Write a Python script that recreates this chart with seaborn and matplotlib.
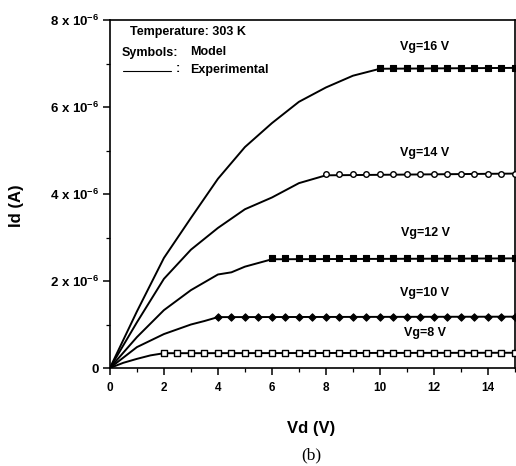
import numpy as np
import pandas as pd
import matplotlib
matplotlib.use("Agg")
import matplotlib.pyplot as plt
from matplotlib.lines import Line2D
import seaborn as sns

# Experimental output characteristics (Id in units of 1e-6 A)
vd_8 = [0, 0.5, 1, 1.5, 2, 15]
id_8 = [0, 0.12, 0.21, 0.29, 0.34, 0.35]
vd_10 = [0, 1, 2, 3, 3.5, 4, 15]
id_10 = [0, 0.48, 0.78, 1.0, 1.08, 1.17, 1.18]
vd_12 = [0, 1, 2, 3, 4, 4.5, 5, 6, 15]
id_12 = [0, 0.71, 1.33, 1.79, 2.15, 2.2, 2.33, 2.5, 2.52]
vd_14 = [0, 1, 2, 3, 4, 5, 6, 7, 8, 15]
id_14 = [0, 1.05, 2.05, 2.72, 3.22, 3.65, 3.92, 4.25, 4.43, 4.47]
vd_16 = [0, 1, 2, 3, 4, 5, 6, 7, 8, 9, 10, 15]
id_16 = [0, 1.3, 2.53, 3.45, 4.35, 5.08, 5.63, 6.12, 6.45, 6.72, 6.88, 6.9]

# Model saturation currents (1e-6 A) and onset of saturation (V)
vg_values = [8, 10, 12, 14, 16]
model_start = [2, 4, 6, 8, 10]
model_id = [0.35, 1.18, 2.52, 4.46, 6.9]
model_step = 0.5

label_y = [0.80, 1.72, 3.10, 4.94, 7.38]
label_x = 11.67

x_ticks = [0, 2, 4, 6, 8, 10, 12, 14]
y_ticks = [0, 2e-6, 4e-6, 6e-6, 8e-6]
y_ticklabels = ["0", "2 x 10$^{-6}$", "4 x 10$^{-6}$", "6 x 10$^{-6}$", "8 x 10$^{-6}$"]

sns.set_style("ticks")
plt.rcParams["font.family"] = ["Liberation Sans", "DejaVu Sans"]
plt.rcParams["font.weight"] = "bold"
plt.rcParams["text.color"] = "black"
plt.rcParams["axes.labelcolor"] = "black"
plt.rcParams["mathtext.fontset"] = "custom"
plt.rcParams["mathtext.rm"] = "Liberation Sans:bold"
plt.rcParams["mathtext.default"] = "rm"

fig = plt.figure(figsize=(5.16, 4.66), dpi=100)
ax = fig.add_axes([0.213, 0.2103, 0.785, 0.7467])

exp_frames = []
for vg, vd, idv in zip(vg_values, [vd_8, vd_10, vd_12, vd_14, vd_16],
                       [id_8, id_10, id_12, id_14, id_16]):
    exp_frames.append(pd.DataFrame({"Vd": vd, "Id": np.array(idv) * 1e-6, "Vg": vg}))
exp_df = pd.concat(exp_frames, ignore_index=True)

sns.lineplot(data=exp_df, x="Vd", y="Id", units="Vg", estimator=None, sort=False,
             color="black", linewidth=1.4, ax=ax)

# Model symbols on the saturated branch
marker_styles = {
    8: dict(marker="s", s=18, facecolor="white", edgecolor="black", linewidth=1.0),
    10: dict(marker="D", s=14, facecolor="black", edgecolor="black", linewidth=0.8),
    12: dict(marker="s", s=22, facecolor="black", edgecolor="black", linewidth=0.8),
    14: dict(marker="o", s=16, facecolor="white", edgecolor="black", linewidth=1.0),
    16: dict(marker="s", s=22, facecolor="black", edgecolor="black", linewidth=0.8),
}
for vg, start, level in zip(vg_values, model_start, model_id):
    vd_model = np.arange(start, 15 + 1e-9, model_step)
    mdf = pd.DataFrame({"Vd": vd_model, "Id": np.full(len(vd_model), level * 1e-6)})
    st = marker_styles[vg]
    sns.scatterplot(data=mdf, x="Vd", y="Id", marker=st["marker"], s=st["s"],
                    facecolor=st["facecolor"], edgecolor=st["edgecolor"],
                    linewidth=st["linewidth"], ax=ax, clip_on=False, zorder=3)

for vg, ly in zip(vg_values, label_y):
    ax.text(label_x, ly * 1e-6, f"Vg={vg} V", ha="center", va="center",
            fontsize=9, fontweight="bold")

# Legend annotation
ax.text(0.05, 0.965, "Temperature: 303 K", transform=ax.transAxes, ha="left",
        va="center", fontsize=9, fontweight="bold")
ax.text(0.029, 0.905, "Symbols:", transform=ax.transAxes, ha="left",
        va="center", fontsize=9, fontweight="bold")
ax.text(0.198, 0.908, "Model", transform=ax.transAxes, ha="left",
        va="center", fontsize=9, fontweight="bold")
ax.add_line(Line2D([0.032, 0.152], [0.853, 0.853], transform=ax.transAxes,
                   color="black", linewidth=0.8))
ax.text(0.162, 0.858, ":", transform=ax.transAxes, ha="left",
        va="center", fontsize=9, fontweight="bold")
ax.text(0.198, 0.856, "Experimental", transform=ax.transAxes, ha="left",
        va="center", fontsize=9, fontweight="bold")

ax.set_xlim(0, 15)
ax.set_ylim(0, 8e-6)
ax.set_xticks(x_ticks)
ax.set_xticklabels([str(t) for t in x_ticks], fontsize=8.5, fontweight="bold")
ax.set_xticks(np.arange(0, 15.01, 1), minor=True)
ax.set_yticks(y_ticks)
ax.set_yticklabels(y_ticklabels, fontsize=9.5, fontweight="bold")
ax.set_yticks(np.arange(0, 8.01e-6, 1e-6), minor=True)
ax.tick_params(axis="both", which="major", direction="out", length=5, width=1.1,
               pad=3, color="black", labelcolor="black")
ax.tick_params(axis="both", which="minor", direction="out", length=3, width=0.9,
               color="black")
ax.tick_params(axis="x", pad=5)
for sp in ax.spines.values():
    sp.set_visible(True)
    sp.set_linewidth(1.2)
    sp.set_color("black")

ax.set_xlabel("")
ax.set_ylabel("")
fig.text(17 / 516, 1 - 206 / 466, "Id (A)", rotation=90, ha="center", va="center",
         fontsize=12, fontweight="bold")
fig.text(311 / 516, 1 - 428 / 466, "Vd (V)", ha="center", va="center",
         fontsize=12, fontweight="bold")
fig.text(311 / 516, 1 - 455 / 466, "(b)", ha="center", va="center",
         fontsize=12.5, fontweight="normal",
         family=["Liberation Serif", "DejaVu Serif"])

fig.savefig("out.png", dpi=100)
